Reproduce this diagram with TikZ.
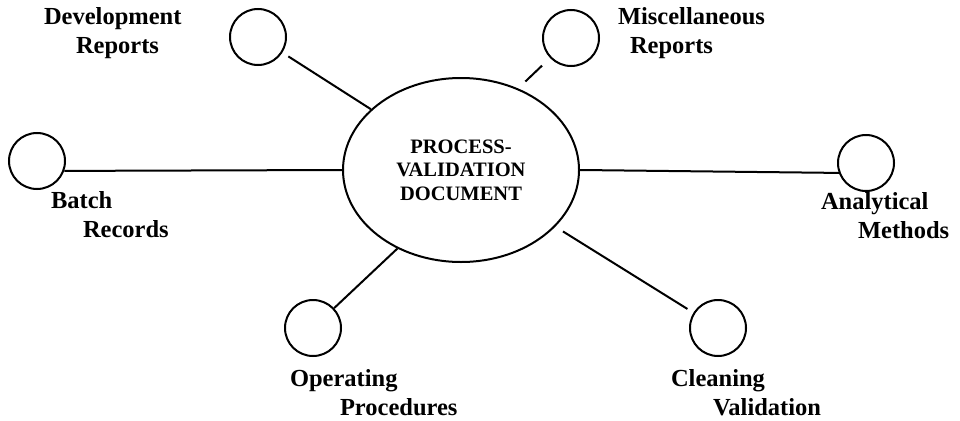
\documentclass[tikz,border=0pt]{standalone}
\usepackage{fontspec}
\setmainfont{Liberation Serif}
\usetikzlibrary{shapes.geometric}
\begin{document}
\begin{tikzpicture}[x=1pt, y=-1pt,
        line width=2pt,
        hub/.style={draw, ellipse, minimum width=236pt, minimum height=184pt,
            inner sep=0pt, align=center, font=\fontsize{20.5}{23.5}\selectfont\bfseries},
        spoke/.style={draw, circle, minimum size=56pt, inner sep=0pt},
        tag/.style={anchor=base west, inner sep=0pt, align=left,
            font=\fontsize{24.5}{29}\selectfont\bfseries}]

        \useasboundingbox (0,0) rectangle (960,420);

        % Central document
        \node[hub] (pvd) at (461,170) {PROCESS-\\VALIDATION\\DOCUMENT};

        % Supporting documents
        \node[spoke] (dev) at (258,37) {};
        \node[spoke] (misc) at (571,38) {};
        \node[spoke] (batch) at (37,161) {};
        \node[spoke] (anal) at (866,163) {};
        \node[spoke] (oper) at (313,328) {};
        \node[spoke] (clean) at (718,328) {};

        % Spokes to the centre
        \draw[shorten <=7pt] (dev) -- (pvd.146);
        \draw[shorten <=11pt, shorten >=10pt] (misc) -- (pvd.55);
        \draw (batch.-20) -- (pvd.west);
        \draw (anal.200) -- (pvd.east);
        \draw (oper) -- (pvd.231);
        \draw[shorten <=7pt, shorten >=9pt] (clean) -- (pvd.-31);

        % Labels (anchored at the baseline of their last line)
        \node[tag] (devtag) at (43,54) {Development\\\hspace*{32pt}Reports};
        \node[tag] (misctag) at (617,54) {Miscellaneous\\\hspace*{12pt}Reports};
        \node[tag] (batchtag) at (50,237) {Batch\\\hspace*{32pt}Records};
        \node[tag] (analtag) at (820,238) {Analytical\\\hspace*{37pt}Methods};
        \node[tag] (opertag) at (289,415) {Operating\\\hspace*{50pt}Procedures};
        \node[tag] (cleantag) at (670,415) {Cleaning\\\hspace*{42pt}Validation};
    \end{tikzpicture}
\end{document}
